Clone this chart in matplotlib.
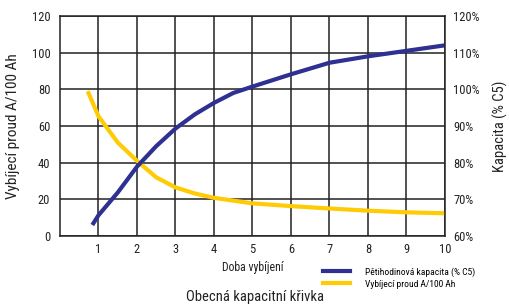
import matplotlib.pyplot as plt
from matplotlib import font_manager
from matplotlib.lines import Line2D

# Data
hours_capacity = [0.84, 1.0, 1.5, 2.0, 2.5, 3.0, 3.5, 4.0, 4.5, 5.0, 6.0, 7.0, 8.0, 9.0, 10.0]
capacity_left = [6, 11.3, 23.7, 37.8, 49, 58.6, 66.3, 72.6, 78, 81.5, 88.2, 94.5, 98, 101, 104]

hours_current = [0.72, 1.0, 1.5, 2.0, 2.5, 3.0, 3.5, 4.0, 5.0, 6.0, 7.0, 8.0, 9.0, 10.0]
current = [79, 65.3, 51, 41, 32, 26.5, 23.2, 20.8, 17.8, 16.3, 15, 13.8, 12.9, 12.4]

x_ticks = [1, 2, 3, 4, 5, 6, 7, 8, 9, 10]
left_ticks = [0, 20, 40, 60, 80, 100, 120]
right_labels = ["60%", "70%", "80%", "90%", "100%", "110%", "120%"]

BLUE = "#2e3192"
YELLOW = "#ffcb05"
INK = "#222222"


def pick_narrow_font():
    """Looks for an installed condensed/narrow sans family."""
    names = sorted({f.name for f in font_manager.fontManager.ttflist})
    for key in ("Liberation Sans Narrow", "Roboto Condensed", "Open Sans Condensed",
                "DejaVu Sans Condensed", "Noto Sans Condensed"):
        if key in names:
            return key, 'normal'
    for n in names:
        if "Narrow" in n or "Condensed" in n:
            return n, 'normal'
    return "DejaVu Sans", 'condensed'


narrow, stretch = pick_narrow_font()
plt.rcParams['font.family'] = [narrow, "DejaVu Sans"]
plt.rcParams['font.stretch'] = stretch

fig = plt.figure(figsize=(5.1, 3.07), dpi=100)
ax = fig.add_axes([0.1176, 0.2313, 0.7549, 0.7166])

ax.plot(hours_current, current, color=YELLOW, lw=3.0, solid_capstyle='butt')
ax.plot(hours_capacity, capacity_left, color=BLUE, lw=3.0, solid_capstyle='butt')

ax.set_xlim(0, 10)
ax.set_ylim(0, 120)
ax.set_xticks(x_ticks)
ax.set_yticks(left_ticks)
ax.grid(True, color=INK, lw=1.1)
ax.set_axisbelow(True)
for s in ax.spines.values():
    s.set_color(INK)
    s.set_linewidth(1.1)
ax.tick_params(length=0, labelsize=9, colors=INK)
ax.tick_params(axis='x', pad=5)
ax.tick_params(axis='y', pad=7)

ax2 = ax.twinx()
ax2.set_ylim(0, 120)
ax2.set_yticks(left_ticks)
ax2.set_yticklabels(right_labels)
ax2.tick_params(length=0, labelsize=9, colors=INK, pad=6)
for s in ax2.spines.values():
    s.set_visible(False)

ax.set_ylabel("Vybíjecí proud A/100 Ah", fontsize=11, color=INK, labelpad=8)
ax2.set_ylabel("Kapacita (% C5)", fontsize=10.5, color=INK, labelpad=9)
ax.set_xlabel("Doba vybíjení", fontsize=8.5, color=INK, labelpad=4)

handles = [Line2D([], [], color=BLUE, lw=3.0), Line2D([], [], color=YELLOW, lw=3.0)]
labels = ["Pětihodinová kapacita (% C5)", "Vybíjecí proud A/100 Ah"]
fig.legend(handles, labels, loc='upper left', bbox_to_anchor=(0.625, 0.145),
           frameon=False, fontsize=6.8, handlelength=2.8, handletextpad=1.6,
           labelspacing=0.3, borderpad=0)

fig.text(0.5, 0.032, "Obecná kapacitní křivka", ha='center', va='center',
         fontsize=10.5, color=INK)

fig.savefig("out.png", dpi=100)
